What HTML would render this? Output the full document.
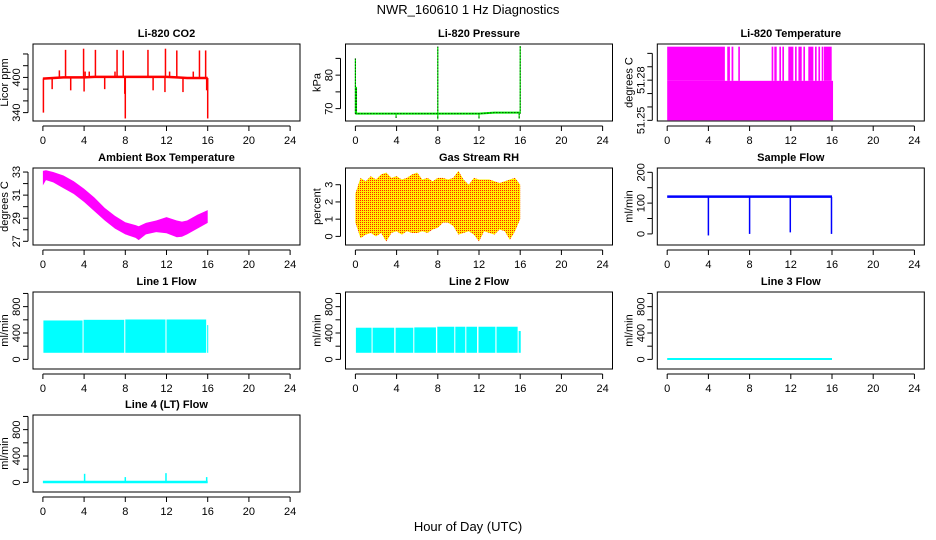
<!DOCTYPE html>
<html><head><meta charset="utf-8"><style>
html,body{margin:0;padding:0;background:#fff;}
svg{display:block;font-family:"Liberation Sans",sans-serif;}
</style></head><body>
<svg id="chart" width="936" height="540" viewBox="0 0 936 540">
<defs>
<pattern id="rhpat" width="2" height="2" patternUnits="userSpaceOnUse">
<rect width="2" height="2" fill="#ffee00"/><rect width="1" height="1" fill="#ff2200"/>
</pattern>
</defs>
<text x="468" y="14" text-anchor="middle" font-size="13">NWR_160610  1 Hz Diagnostics</text>
<text x="468" y="531" text-anchor="middle" font-size="13">Hour of Day (UTC)</text>
</svg>
<script>
// ---- data ----
const xTicks = [0,4,8,12,16,20,24];
// CO2
const co2BaseT = [0,1,2,3,4,5,6,7,8,9,10,11,12,13,14,15,16];
const co2BaseV = [398,399,400,400,400,401,401,401,401,401,401,401,401,400,399,399,399];
const co2SpikeT = [2.2,3.95,5.1,7.2,7.8,10.2,11.9,13.0,15.2,15.8,1.6,4.1,4.5,7.0,12.3,14.6,0.05,0.9,2.7,4.0,6.0,7.95,8.0,10.7,11.85,13.6,15.9,16.0];
const co2SpikeV = [447,449,447,447,446,447,449,446,446,446,412,410,410,410,410,410,340,380,378,376,380,372,330,378,375,375,378,330];
// Pressure
const presBaseT = [0,4,8,12,13.5,16];
const presBaseV = [68.5,68.5,68.5,68.5,68.8,68.8];
const presSpikeT = [0.0,0.1,8.0,16.0,3.95,12.0,15.9,8.0];
const presSpikeV = [85,76.5,88.5,88.7,67.2,67.0,67.0,66.8];
// Li-820 temperature
const tLow = 51.25, tMid = 51.2795, tHigh = 51.305;
const tHighStart = [0,5.83,6.25,6.9,10.14,10.4,10.89,11.18,11.76,12.41,12.74,13.22,13.7,14.35,14.68,15.0,15.22];
const tHighEnd   = [5.6,6.09,6.42,7.06,10.3,10.63,11.05,11.34,12.25,12.57,13.06,13.38,14.19,14.51,14.84,15.16,15.97];
// Ambient
const ambT  = [0,0.3,1,2,3,4,5,6,7,8,9,9.3,10,11,12,13,13.5,14,15,16];
const ambHi = [33.1,33.15,33.0,32.7,32.2,31.55,30.8,29.9,29.2,28.65,28.4,28.3,28.6,28.8,29.1,28.8,28.7,28.8,29.3,29.7];
const ambLo = [31.85,32.3,32.1,31.6,31.1,30.4,29.6,28.8,28.1,27.6,27.3,27.1,27.6,27.8,27.7,27.35,27.4,27.6,28.1,28.6];
// RH
const rhT  = [0,0.5,1,1.5,2,2.5,3,3.5,4,4.5,5,5.5,6,6.5,7,7.5,8,8.5,9,9.5,10,10.5,11,11.5,12,12.5,13,13.5,14,14.5,15,15.5,16];
const rhHi = [2.5,3.4,3.2,3.5,3.3,3.6,3.7,3.4,3.5,3.3,3.4,3.6,3.7,3.3,3.4,3.2,3.4,3.4,3.3,3.4,3.8,3.3,3.0,3.4,3.3,3.3,3.3,3.2,3.1,3.2,3.3,3.4,3.0];
const rhLo = [0.8,-0.1,0.1,0.2,0.0,0.2,-0.3,0.2,0.3,0.1,0.3,0.2,0.2,0.3,0.2,0.4,0.5,0.8,0.8,0.6,0.1,0.2,0.3,0.1,-0.3,0.3,0.2,0.1,0.4,0.3,-0.2,0.3,1.0];
// Sample flow
const sfT = [0,16];
const sfHi = [125,125];
const sfLo = [117,117];
const sfDipT = [4.0,8.0,11.95,15.95];
const sfDipV = [-5,0,5,0];
// Line 1 flow
const l1Start = [0.05,3.95,8.0,12.0,15.95];
const l1End   = [3.85,7.9,11.9,15.85,16.05];
const l1Top   = [590,600,605,605,520];
const l1Bottom = 100;
// Line 2 flow
const l2Start = [0.05,1.67,3.9,5.72,7.95,9.7,10.77,11.95,13.7,15.85];
const l2End   = [1.57,3.77,5.62,7.82,9.6,10.67,11.81,13.59,15.75,16.05];
const l2Top   = [480,480,480,485,495,495,495,495,495,430];
const l2Bottom = 100;
// Line 3 flow
const l3T = [0,16];
const l3V = [5,5];
// Line 4 flow
const l4T = [0,16];
const l4V = [5,5];
const l4SpikeT = [4.05,8.0,11.95,15.9];
const l4SpikeV = [130,80,140,80];

// ---- layout ----
const svg = document.getElementById('chart');
const NS = 'http://www.w3.org/2000/svg';
const colLeft = [33,345.5,657.3], rowTop = [44,168,292,415], BW = 267, BH = 77;
function mk(tag, attrs, parent){ const e=document.createElementNS(NS,tag); for(const k in attrs) e.setAttribute(k,attrs[k]); (parent||svg).appendChild(e); return e; }

function panel(col,row,name,title,ylab,ydom,ticks,labels){
  const L=colLeft[col], T=rowTop[row];
  const g=mk('g',{});
  
  
  const sx=h=>L+(h+0.96)/25.92*BW;
  const sy=v=>T+BH-(v-ydom[0])/(ydom[1]-ydom[0])*BH;
  const box=mk('rect',{x:L,y:T,width:BW,height:BH,fill:'none',stroke:'#000','stroke-width':1},g);
  
  
  const tt=mk('text',{x:L+BW/2,y:T-7,'text-anchor':'middle','font-size':11,'font-weight':'bold'},g);
  tt.textContent=title;
  
  
  const xa=mk('g',{stroke:'#000','stroke-width':1},g);
  
  
  mk('line',{x1:sx(0),x2:sx(24),y1:T+BH+5,y2:T+BH+5},xa);
  xTicks.forEach(t=>{
    mk('line',{x1:sx(t),x2:sx(t),y1:T+BH+5,y2:T+BH+10},xa);
    const tx=mk('text',{x:sx(t),y:T+BH+23,'text-anchor':'middle','font-size':11,stroke:'none'},xa);
    tx.textContent=t;
  });
  const ya=mk('g',{stroke:'#000','stroke-width':1},g);
  
  
  mk('line',{x1:L-5,x2:L-5,y1:sy(ticks[0]),y2:sy(ticks[ticks.length-1])},ya);
  ticks.forEach((t,i)=>{
    mk('line',{x1:L-10,x2:L-5,y1:sy(t),y2:sy(t)},ya);
    if(labels[i]!==''){
      const yy=sy(t);
      const tx=mk('text',{x:L-13,y:yy,'text-anchor':'middle','font-size':11,stroke:'none',transform:'rotate(-90 '+(L-13)+' '+yy+')'},ya);
      tx.textContent=labels[i];
    }
  });
  const yl=mk('text',{x:L-25,y:T+BH/2,'text-anchor':'middle','font-size':11,transform:'rotate(-90 '+(L-25)+' '+(T+BH/2)+')'},g);
  yl.textContent=ylab;
  
  
  const dg=mk('g',{},g);
  
  
  return {sx,sy,g:dg};
}
function pts(sx,sy,ts,vs){ return ts.map((t,i)=>sx(t)+','+sy(vs[i])).join(' '); }
function band(p,ts,hi,lo,fill){
  const s=ts.map((t,i)=>p.sx(t)+','+p.sy(hi[i])).concat(ts.slice().reverse().map((t,i)=>p.sx(t)+','+p.sy(lo[ts.length-1-i]))).join(' ');
  return mk('polygon',{points:s,fill:fill,stroke:'none'},p.g);
}

let p=panel(0,0,'co2','Li-820 CO2','Licor ppm',[325.7,457],[340,360,380,400,420,440],['340','','','400','','']);
co2SpikeT.forEach((t,i)=>{ const j=Math.min(16,Math.round(t)); mk('line',{x1:p.sx(t),x2:p.sx(t),y1:p.sy(co2BaseV[j]),y2:p.sy(co2SpikeV[i]),stroke:'#ff0000','stroke-width':1.5},p.g); });
mk('polyline',{points:pts(p.sx,p.sy,co2BaseT,co2BaseV),fill:'none',stroke:'#ff0000','stroke-width':2.5},p.g);

p=panel(1,0,'pressure','Li-820 Pressure','kPa',[66.3,89.3],[70,75,80,85],['70','','80','']);
presSpikeT.forEach((t,i)=>{ mk('line',{x1:p.sx(t),x2:p.sx(t),y1:p.sy(68.5),y2:p.sy(presSpikeV[i]),stroke:'#00ee00','stroke-width':1.2},p.g); mk('line',{x1:p.sx(t),x2:p.sx(t),y1:p.sy(68.5),y2:p.sy(presSpikeV[i]),stroke:'#000','stroke-width':1,'stroke-dasharray':'1 2'},p.g); });
mk('polyline',{points:pts(p.sx,p.sy,presBaseT,presBaseV),fill:'none',stroke:'#00ee00','stroke-width':2},p.g);
mk('polyline',{points:pts(p.sx,p.sy,presBaseT,presBaseV),fill:'none',stroke:'#000','stroke-width':1,'stroke-dasharray':'1 2'},p.g);

p=panel(2,0,'li820-temperature','Li-820 Temperature','degrees C',[51.2495,51.307],[51.25,51.26,51.27,51.28,51.29,51.30],['51.25','','','51.28','','']);
mk('rect',{x:p.sx(0),y:p.sy(tMid),width:p.sx(16.1)-p.sx(0),height:p.sy(tLow)-p.sy(tMid),fill:'#ff00ff'},p.g);
tHighStart.forEach((s,i)=>{ mk('rect',{x:p.sx(s),y:p.sy(tHigh),width:p.sx(tHighEnd[i])-p.sx(s),height:p.sy(tMid)-p.sy(tHigh),fill:'#ff00ff'},p.g); });

p=panel(0,1,'ambient-temperature','Ambient Box Temperature','degrees C',[26.68,33.35],[27,28,29,30,31,32,33],['27','','29','','31','','33']);
band(p,ambT,ambHi,ambLo,'#ff00ff');

p=panel(1,1,'gas-stream-rh','Gas Stream RH','percent',[-0.5,3.97],[0,1,2,3],['0','1','2','3']);
band(p,rhT,rhHi,rhLo,'url(#rhpat)');

p=panel(2,1,'sample-flow','Sample Flow','ml/min',[-36,214],[0,50,100,150,200],['0','','100','','200']);
band(p,sfT,sfHi,sfLo,'#0000ff');
sfDipT.forEach((t,i)=>{ mk('line',{x1:p.sx(t),x2:p.sx(t),y1:p.sy(120),y2:p.sy(sfDipV[i]),stroke:'#0000ff','stroke-width':1.5},p.g); });

const flowDom=[-146,1022], flowTicks=[0,200,400,600,800,1000], flowLabels=['0','','400','','800',''];
p=panel(0,2,'line1-flow','Line 1 Flow','ml/min',flowDom,flowTicks,flowLabels);
l1Start.forEach((s,i)=>{ mk('rect',{x:p.sx(s),y:p.sy(l1Top[i]),width:p.sx(l1End[i])-p.sx(s),height:p.sy(l1Bottom)-p.sy(l1Top[i]),fill:'#00ffff'},p.g); });
p=panel(1,2,'line2-flow','Line 2 Flow','ml/min',flowDom,flowTicks,flowLabels);
l2Start.forEach((s,i)=>{ mk('rect',{x:p.sx(s),y:p.sy(l2Top[i]),width:p.sx(l2End[i])-p.sx(s),height:p.sy(l2Bottom)-p.sy(l2Top[i]),fill:'#00ffff'},p.g); });
p=panel(2,2,'line3-flow','Line 3 Flow','ml/min',flowDom,flowTicks,flowLabels);
mk('polyline',{points:pts(p.sx,p.sy,l3T,l3V),fill:'none',stroke:'#00ffff','stroke-width':2},p.g);
p=panel(0,3,'line4-flow','Line 4 (LT) Flow','ml/min',flowDom,flowTicks,flowLabels);
mk('polyline',{points:pts(p.sx,p.sy,l4T,l4V),fill:'none',stroke:'#00ffff','stroke-width':2.5},p.g);
l4SpikeT.forEach((t,i)=>{ mk('line',{x1:p.sx(t),x2:p.sx(t),y1:p.sy(0),y2:p.sy(l4SpikeV[i]),stroke:'#00ffff','stroke-width':1.5},p.g); });
</script>
</body></html>
